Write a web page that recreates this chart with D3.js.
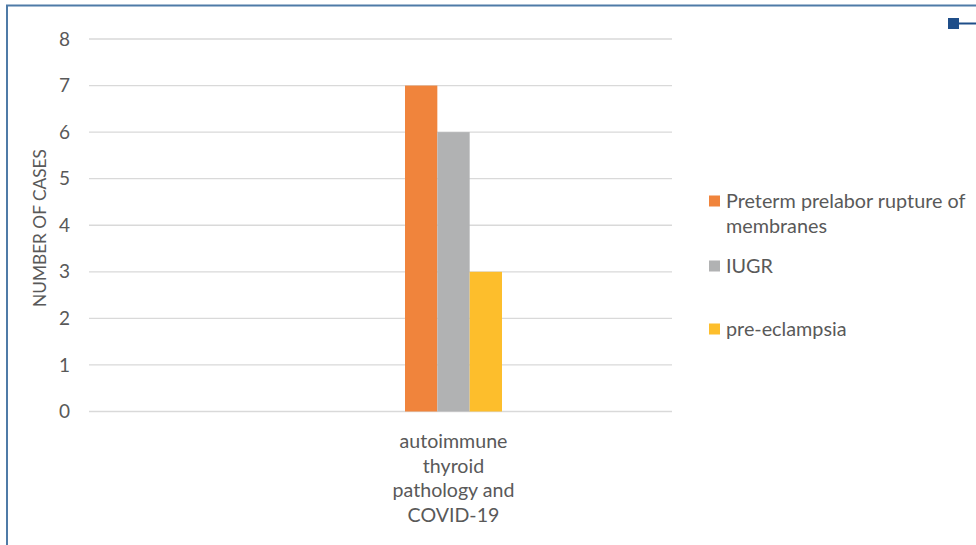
<!DOCTYPE html>
<html><head><meta charset="utf-8">
<script src="https://cdn.jsdelivr.net/npm/d3@7"></script>
<style>body{margin:0;background:#fff}svg{display:block}</style>
</head><body><svg id="c" width="976" height="545"></svg>
<script>
const categories = ["autoimmune thyroid pathology and COVID-19"];
const categoryLines = [["autoimmune","thyroid","pathology and","COVID-19"]];
const seriesNames = ["Preterm prelabor rupture of membranes","IUGR","pre-eclampsia"];
const seriesValues = [[7],[6],[3]];
const seriesColors = ["#F0843C","#B1B2B3","#FDBE2C"];
const yTicks = [0,1,2,3,4,5,6,7,8];
const yTitle = "NUMBER OF CASES";
const legendLines = [["Preterm prelabor rupture of","membranes"],["IUGR"],["pre-eclampsia"]];

const svg = d3.select("#c");
const font = "Lato, 'Open Sans', sans-serif";
const txt = "#595959";

// frame
svg.append("line").attr("x1",7).attr("x2",7).attr("y1",5).attr("y2",545).attr("stroke","#4f7ba7").attr("stroke-width",2);
svg.append("line").attr("x1",6).attr("x2",976).attr("y1",5.5).attr("y2",5.5).attr("stroke","#4f7ba7").attr("stroke-width",2);
svg.append("rect").attr("x",948).attr("y",18).attr("width",11).attr("height",11).attr("fill","#1f4e89");
svg.append("line").attr("x1",959).attr("x2",976).attr("y1",23.5).attr("y2",23.5).attr("stroke","#1f4e89").attr("stroke-width",2);

const plotL = 89, plotR = 672;
const y = d3.scaleLinear().domain([0,8]).range([411.5,39]);
const x0 = d3.scaleBand().domain(categories).range([235,672]).padding(0);
const x1 = d3.scaleBand().domain(seriesNames).range([x0.bandwidth()/2 - 48.5, x0.bandwidth()/2 + 48.5]);

// gridlines
svg.append("g").selectAll("line").data(yTicks).join("line")
  .attr("x1",plotL).attr("x2",plotR).attr("y1",d=>y(d)).attr("y2",d=>y(d))
  .attr("stroke","#d9d9d9").attr("stroke-width",1.3);

// y axis labels
const yAxis = d3.axisLeft(y).tickValues(yTicks).tickSize(0).tickPadding(0).tickFormat(d3.format("d"));
const ya = svg.append("g").attr("transform","translate(70,0)").call(yAxis);
ya.select(".domain").remove();
ya.selectAll("text").attr("font-family",font).attr("font-size",19).attr("fill",txt);

// y title
svg.append("text").attr("transform","translate(46,228) rotate(-90)").attr("text-anchor","middle")
  .attr("font-family",font).attr("font-size",17.3).attr("fill",txt).text(yTitle);

// bars
const g = svg.append("g");
categories.forEach((c,ci)=>{
  seriesNames.forEach((s,si)=>{
    g.append("rect").attr("x",x0(c)+x1(s)).attr("width",x1.bandwidth())
      .attr("y",y(seriesValues[si][ci])).attr("height",y(0)-y(seriesValues[si][ci]))
      .attr("fill",seriesColors[si]);
  });
  const t = svg.append("text").attr("text-anchor","middle").attr("font-family",font).attr("font-size",19.6).attr("fill",txt);
  categoryLines[ci].forEach((l,li)=>{
    t.append("tspan").attr("x",x0(c)+x0.bandwidth()/2).attr("y",448+li*24.7).text(l);
  });
});

// legend
const legY = [201,266,329];
seriesNames.forEach((s,i)=>{
  svg.append("rect").attr("x",709).attr("y",legY[i]-5.5).attr("width",11).attr("height",11).attr("fill",seriesColors[i]);
  const t = svg.append("text").attr("font-family",font).attr("font-size",19.8).attr("fill",txt);
  legendLines[i].forEach((l,li)=>{
    t.append("tspan").attr("x",726).attr("y",legY[i]+7+li*25).text(l);
  });
});
</script></body></html>
